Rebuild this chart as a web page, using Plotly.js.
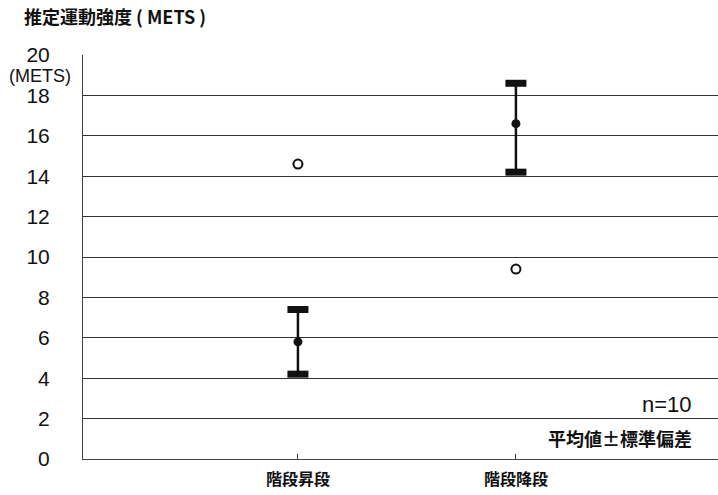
<!DOCTYPE html>
<html>
<head>
<meta charset="utf-8">
<script src="https://cdn.plot.ly/plotly-3.0.1.min.js"></script>
<style>html,body{margin:0;padding:0;background:#fff;}#chart{width:718px;height:495px;}</style>
</head>
<body>
<div id="chart"></div>
<script>
const categories = ['階段昇段', '階段降段'];
const meanValues = [5.8, 16.6];
const upperValues = [7.4, 18.6];
const lowerValues = [4.2, 14.2];
const openValues = [14.6, 9.4];
const yTickVals = [0, 2, 4, 6, 8, 10, 12, 14, 16, 18, 20];
const yTickText = ['0', '2', '4', '6', '8', '10', '12', '14', '16', '18', '20'];

const xIdx = categories.map((c, i) => i);
const plus = meanValues.map((m, i) => upperValues[i] - m);
const minus = meanValues.map((m, i) => m - lowerValues[i]);

const traces = [
  {
    x: xIdx, y: meanValues, type: 'scatter', mode: 'markers',
    marker: {symbol: 'circle', size: 9, color: '#111'},
    error_y: {type: 'data', symmetric: false, array: plus, arrayminus: minus,
              color: '#111', thickness: 2.5, width: 0},
    hoverinfo: 'skip', cliponaxis: false
  },
  {
    x: xIdx.concat(xIdx), y: upperValues.concat(lowerValues), type: 'scatter', mode: 'markers',
    marker: {symbol: 'line-ew', size: 15, color: '#111', line: {width: 7, color: '#111'}},
    hoverinfo: 'skip', cliponaxis: false
  },
  {
    x: xIdx, y: openValues, type: 'scatter', mode: 'markers',
    marker: {symbol: 'circle-open', size: 9, color: '#111', line: {width: 2, color: '#111'}},
    hoverinfo: 'skip'
  }
];

const layout = {
  width: 718, height: 495,
  margin: {l: 83, r: 0, t: 55, b: 36},
  paper_bgcolor: '#fff', plot_bgcolor: '#fff',
  showlegend: false,
  font: {family: '"Liberation Sans", Arial, sans-serif', color: '#111'},
  title: {
    text: '<b>推定運動強度 ( METS )</b>',
    font: {family: '"Noto Sans CJK JP", sans-serif', size: 18, color: '#111'},
    xref: 'container', yref: 'container',
    x: 24 / 718, xanchor: 'left', y: 1 - 18 / 495, yanchor: 'middle'
  },
  xaxis: {
    range: [-0.986, 1.927],
    tickmode: 'array', tickvals: xIdx, ticktext: categories.map(c => '<b>' + c + '</b>'),
    tickfont: {family: '"Noto Sans CJK JP", sans-serif', size: 16, color: '#111'},
    ticks: 'inside', ticklen: 5, tickcolor: '#333', tickwidth: 1,
    ticklabelstandoff: 6,
    showgrid: false, zeroline: false,
    showline: true, linecolor: '#444', linewidth: 1,
    fixedrange: true
  },
  yaxis: {
    range: [0, 20],
    tickmode: 'array', tickvals: yTickVals, ticktext: yTickText,
    tickfont: {family: '"Liberation Sans", Arial, sans-serif', size: 21, color: '#111'},
    ticks: '', ticklabelstandoff: 28,
    showgrid: true, gridcolor: '#333', gridwidth: 1,
    zeroline: false,
    showline: true, linecolor: '#444', linewidth: 1,
    fixedrange: true
  },
  annotations: [
    {
      text: '(METS)', xref: 'paper', yref: 'paper',
      x: (40 - 83) / 635, y: (459 - 76) / 404, xanchor: 'center', yanchor: 'middle',
      showarrow: false, font: {family: '"Liberation Sans", Arial, sans-serif', size: 18, color: '#111'}
    },
    {
      text: 'n=10', xref: 'paper', yref: 'paper',
      x: (694 - 83) / 635, y: (459 - 404) / 404, xanchor: 'right', yanchor: 'middle',
      showarrow: false, font: {family: '"Liberation Sans", Arial, sans-serif', size: 22, color: '#111'}
    },
    {
      text: '<b>平均値±標準偏差</b>', xref: 'paper', yref: 'paper',
      x: (694 - 83) / 635, y: (459 - 438) / 404, xanchor: 'right', yanchor: 'middle',
      showarrow: false, font: {family: '"Noto Sans CJK JP", sans-serif', size: 18, color: '#111'}
    }
  ]
};

Plotly.newPlot('chart', traces, layout, {displayModeBar: false, staticPlot: true});
</script>
</body>
</html>
